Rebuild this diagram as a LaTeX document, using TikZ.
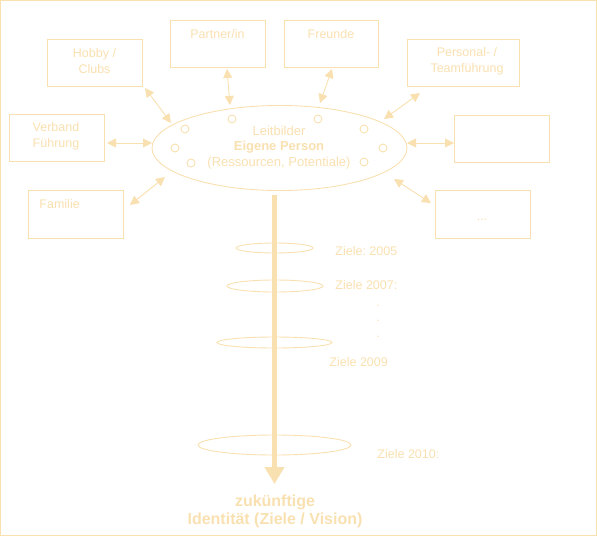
\documentclass[tikz,border=0pt]{standalone}
\usepackage{fontspec}
\setmainfont{Liberation Sans}
\usetikzlibrary{shapes.geometric,arrows.meta}
\definecolor{wheat}{RGB}{249,224,176}
\frenchspacing
\begin{document}
\begin{tikzpicture}[x=1pt,y=-1pt,
  line width=0.9pt,
  every node/.style={text=wheat,font=\fontsize{12.5}{16}\selectfont},
  box/.style={draw=wheat,rectangle,inner sep=0pt},
  dot/.style={draw=wheat,circle,minimum size=8pt,inner sep=0pt},
  ring/.style={draw=wheat,ellipse,inner sep=0pt},
  link/.style={draw=wheat,{Triangle[length=9pt,width=9pt]}-{Triangle[length=9pt,width=9pt]}},
  lbl/.style={inner sep=0pt}]
\useasboundingbox (0,0) rectangle (597,536);
\draw[wheat] (0.5,0.5) rectangle (596,535);
% boxes
\node[box,minimum width=95pt,minimum height=47pt] (hobby) at (94.5,62.5) {};
\node[box,minimum width=95pt,minimum height=47pt] (partner) at (217.5,43.5) {};
\node[box,minimum width=94pt,minimum height=47pt] (freunde) at (331,43.5) {};
\node[box,minimum width=112pt,minimum height=47pt] (personal) at (463,62.5) {};
\node[box,minimum width=95pt,minimum height=47pt] (verband) at (56.5,137.5) {};
\node[box,minimum width=95pt,minimum height=47pt] (leer) at (501.5,138.5) {};
\node[box,minimum width=95pt,minimum height=48pt] (familie) at (75.5,214) {};
\node[box,minimum width=95pt,minimum height=48pt] (etc) at (482.5,214) {};
% box texts
\node[lbl,align=center] (hobbyT) at (94.5,61) {Hobby /\\Clubs};
\node[lbl] (partnerT) at (217.5,34) {Partner/in};
\node[lbl] (freundeT) at (331,34) {Freunde};
\node[lbl,align=center] (personalT) at (467,61) {Personal- /\\Teamführung};
\node[lbl,align=left] (verbandT) at (56,136) {Verband\\Führung};
\node[lbl,anchor=west] (familieT) at (39,204) {Familie};
\node[lbl] (etcT) at (482,220) {...};
% central ellipse
\node[ring,minimum width=255pt,minimum height=85pt] (person) at (279.5,148) {};
\node[lbl,align=center,font=\fontsize{13}{15.5}\selectfont] (personT) at (279,147.5) {Leitbilder\\{\bfseries Eigene Person}\\(Ressourcen, Potentiale)};
\foreach \n/\p in {c1/{(185,129)},c2/{(175,148)},c3/{(191,163)},c4/{(232,119)},c5/{(318,119)},c6/{(364,129)},c7/{(383,148)},c8/{(364,162)}}
  \node[dot] (\n) at \p {};
% connector end points
\coordinate (h1) at (145,88);  \coordinate (h2) at (171,123);
\coordinate (p1) at (227,69);  \coordinate (p2) at (230,105);
\coordinate (f1) at (332,69);  \coordinate (f2) at (320,103);
\coordinate (t1) at (420,93);  \coordinate (t2) at (384,119);
\coordinate (v1) at (107,143); \coordinate (v2) at (152,143);
\coordinate (l1) at (407,143); \coordinate (l2) at (454,143);
\coordinate (m1) at (165,177); \coordinate (m2) at (130,205);
\coordinate (e1) at (394,179); \coordinate (e2) at (431,203);
\draw[link] (h1) -- (h2);
\draw[link] (p1) -- (p2);
\draw[link] (f1) -- (f2);
\draw[link] (t1) -- (t2);
\draw[link] (v1) -- (v2);
\draw[link] (l1) -- (l2);
\draw[link] (m1) -- (m2);
\draw[link] (e1) -- (e2);
% goal ellipses
\node[ring,minimum width=77pt,minimum height=10pt] (z1) at (274.5,248) {};
\node[ring,minimum width=96pt,minimum height=12pt] (z2) at (275,286) {};
\node[ring,minimum width=115pt,minimum height=11pt] (z3) at (274.5,342.5) {};
\node[ring,minimum width=153pt,minimum height=20pt] (z4) at (274.5,445) {};
% main arrow
\coordinate (top) at (274.5,195);
\node[lbl,align=center,font=\bfseries\fontsize{16}{18}\selectfont] (ziel) at (275,511) {zukünftige\\Identität (Ziele / Vision)};
\coordinate (tip) at (274.5,484);
\draw[wheat,line width=5pt,-{Triangle[length=17pt,width=19pt]}] (top) -- (tip);
% goal labels
\node[lbl,anchor=west] (g1) at (335,251) {Ziele: 2005};
\node[lbl,anchor=west] (g2) at (335,285) {Ziele 2007:};
\node[lbl,align=center,font=\fontsize{12.5}{15.5}\selectfont] (dots) at (378,321) {.\\.\\.};
\node[lbl,anchor=west] (g3) at (329,362) {Ziele 2009};
\node[lbl,anchor=west] (g4) at (377,454) {Ziele 2010:};
\end{tikzpicture}
\end{document}
